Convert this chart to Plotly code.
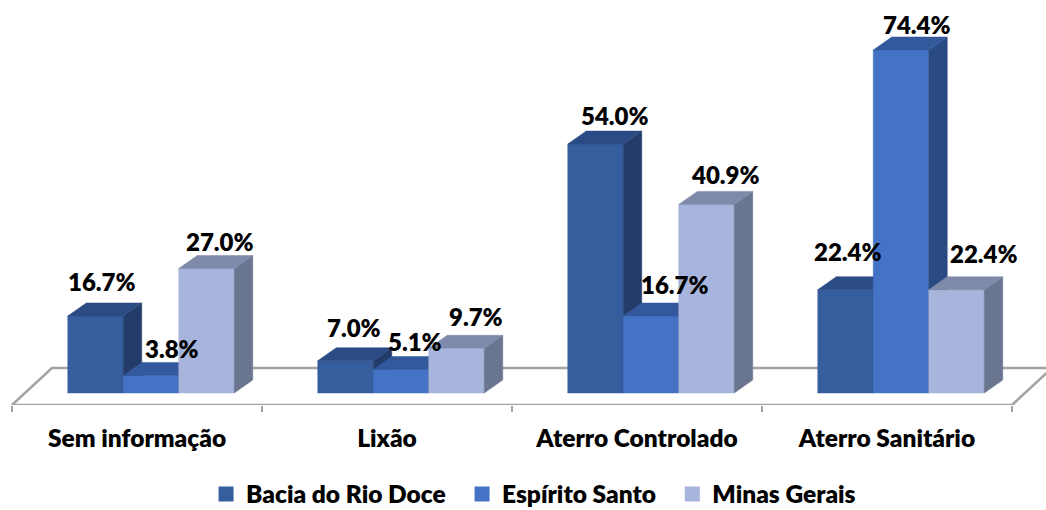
import plotly.graph_objects as go

categories = ["Sem informação", "Lixão", "Aterro Controlado", "Aterro Sanitário"]
series_names = ["Bacia do Rio Doce", "Espírito Santo", "Minas Gerais"]
legend_pad = [2, 2, 0]
bacia = [16.7, 7.0, 54.0, 22.4]
espirito = [3.8, 5.1, 16.7, 74.4]
minas = [27.0, 9.7, 40.9, 22.4]
series_values = [bacia, espirito, minas]

label_dx = [[6, 8, 19, 2], [21, 14, 24, 16], [13, 19, 19, 27]]
label_dy = [[35, 33, 29, 38], [27, 28, 32, 26], [27, 32, 30, 36]]

front = ["#365E9F", "#4472C4", "#A7B4DB"]
top = ["#2B4B85", "#33589C", "#7F8AAB"]
side = ["#233C69", "#2A4A82", "#6A7590"]

W, H, BOTTOM = 1046, 510, 105
PX_X = 250.0
PX_Y = 343 / 74.4
X_LO = -137 / PX_X
X_HI = (W - 137) / PX_X
Y_LO = -12 / PX_Y
Y_HI = 393 / PX_Y

BAR_W = 55.5 / PX_X
GROUP_SHIFT = 14 / PX_X
DEPTH_X = 18.5 / PX_X
DEPTH_Y = 13 / PX_Y
FLOOR_X = 40 / PX_X
FLOOR_Y = 37 / PX_Y

fig = go.Figure()

# floor
floor_left, floor_right = -0.5, 3.5
fig.add_trace(go.Scatter(
    x=[floor_right + FLOOR_X, floor_right, floor_left, floor_left + FLOOR_X, floor_right + FLOOR_X + 0.1],
    y=[Y_LO + FLOOR_Y, Y_LO, Y_LO, Y_LO + FLOOR_Y, Y_LO + FLOOR_Y],
    mode="lines", line=dict(color="#A3A3A3", width=2.5), cliponaxis=False,
    showlegend=False, hoverinfo="skip"))


def face(xs, ys, color):
    fig.add_trace(go.Scatter(x=xs, y=ys, mode="lines", fill="toself", fillcolor=color,
                             line=dict(color=color, width=0.5), showlegend=False, hoverinfo="skip"))


for c in range(len(categories)):
    for s, vals in enumerate(series_values):
        v = vals[c]
        x0 = c + GROUP_SHIFT + (s - 1.5) * BAR_W
        x1 = x0 + BAR_W
        face([x0, x1, x1, x0, x0], [0, 0, v, v, 0], front[s])
        face([x1, x1 + DEPTH_X, x1 + DEPTH_X, x1, x1],
             [0, DEPTH_Y, v + DEPTH_Y, v, 0], side[s])
        face([x0, x1, x1 + DEPTH_X, x0 + DEPTH_X, x0],
             [v, v, v + DEPTH_Y, v + DEPTH_Y, v], top[s])

# legend entries
for s, name in enumerate(series_names):
    fig.add_trace(go.Scatter(x=[None], y=[None], mode="markers", name=name + "\u00a0" * legend_pad[s],
                             marker=dict(symbol="square", size=15, color=front[s])))

annotations = []
for c in range(len(categories)):
    for s, vals in enumerate(series_values):
        annotations.append(dict(
            x=c + GROUP_SHIFT + (s - 1) * BAR_W, y=vals[c], xref="x", yref="y",
            text=f"{vals[c]:.1f}%", showarrow=False,
            xshift=label_dx[s][c], yshift=label_dy[s][c],
            font=dict(family="Lato", size=24, color="black", weight=800)))

fig.update_layout(
    width=W, height=H, margin=dict(l=0, r=0, t=0, b=BOTTOM, pad=0),
    paper_bgcolor="white", plot_bgcolor="white",
    font=dict(family="Lato", color="black"),
    annotations=annotations,
    legend=dict(orientation="h", x=0.197, xanchor="left", xref="container",
                y=16 / H, yanchor="middle", yref="container",
                font=dict(family="Lato", size=24.5, color="black", weight=800),
                itemclick=False, itemdoubleclick=False),
    xaxis=dict(range=[X_LO, X_HI], showgrid=False, zeroline=False, showline=False,
               tickmode="array", tickvals=list(range(len(categories))), ticktext=categories,
               ticks="outside", ticklen=12, tickcolor="rgba(0,0,0,0)",
               tickfont=dict(family="Lato", size=24.5, color="black", weight=800),
               minor=dict(tickmode="array", tickvals=[-0.5, 0.5, 1.5, 2.5, 3.5], ticks="outside",
                          ticklen=6, tickwidth=2, tickcolor="#A3A3A3", showgrid=False)),
    yaxis=dict(range=[Y_LO, Y_HI], visible=False),
)

fig.write_html("out.html", config={"displayModeBar": False},
               post_script="document.body.style.margin='0';")
